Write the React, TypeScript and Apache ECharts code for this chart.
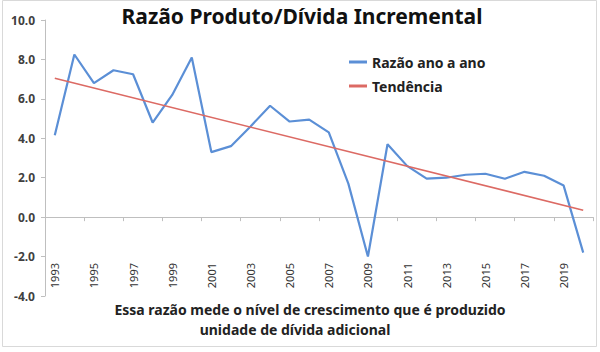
import React, { useEffect, useRef } from "react";
import * as echarts from "echarts";

const years = [
  "1993", "1994", "1995", "1996", "1997", "1998", "1999", "2000", "2001", "2002",
  "2003", "2004", "2005", "2006", "2007", "2008", "2009", "2010", "2011", "2012",
  "2013", "2014", "2015", "2016", "2017", "2018", "2019", "2020",
];
const ratio = [
  4.15, 8.25, 6.8, 7.45, 7.25, 4.8, 6.2, 8.1, 3.3, 3.6,
  4.6, 5.65, 4.85, 4.95, 4.3, 1.7, -2.0, 3.7, 2.6, 1.95,
  2.0, 2.15, 2.2, 1.95, 2.3, 2.1, 1.6, -1.8,
];
const trendEnds: [string, number][] = [
  ["1993", 7.05],
  ["2020", 0.35],
];
const titleText = "Razão Produto/Dívida Incremental";
const seriesNames = ["Razão ano a ano", "Tendência"];
const noteLines = [
  "Essa razão mede o nível de crescimento que é produzido",
  "unidade de dívida adicional",
];

export default function App() {
  const ref = useRef<HTMLDivElement>(null);
  useEffect(() => {
    if (!ref.current) return;
    const chart = echarts.init(ref.current, null, { renderer: "svg" });
    const font = "'Noto Sans', 'Open Sans', sans-serif";
    chart.setOption({
      animation: false,
      backgroundColor: "#ffffff",
      textStyle: { fontFamily: font },
      title: {
        text: titleText,
        left: 297,
        textAlign: "center",
        top: 0,
        textStyle: { fontSize: 21, fontWeight: "bold", color: "#111", fontFamily: font },
      },
      legend: {
        orient: "vertical",
        left: 344,
        top: 50,
        itemWidth: 18,
        itemHeight: 3,
        itemGap: 10,
        icon: "rect",
        textStyle: { fontSize: 14, fontWeight: "bold", color: "#222", fontFamily: font },
        data: seriesNames,
      },
      grid: { left: 45, right: 7, top: 20, bottom: 56 },
      xAxis: [
        {
          type: "category",
          data: years,
          boundaryGap: true,
          axisLine: { onZero: true, lineStyle: { color: "#bfbfbf", width: 1 } },
          axisTick: { show: true, interval: 1, length: 4, lineStyle: { color: "#bfbfbf" } },
          axisLabel: { show: false },
          splitLine: { show: false },
        },
        {
          type: "category",
          data: years,
          boundaryGap: true,
          position: "bottom",
          offset: -33,
          axisLine: { show: false },
          axisTick: { show: false },
          axisLabel: {
            show: true,
            interval: 1,
            rotate: 90,
            margin: 0,
            fontSize: 11,
            color: "#333",
            fontFamily: font,
          },
          splitLine: { show: false },
        },
      ],
      yAxis: {
        type: "value",
        min: -4,
        max: 10,
        interval: 2,
        axisLine: { show: true, lineStyle: { color: "#bfbfbf", width: 1 } },
        axisTick: { show: true, length: 4, lineStyle: { color: "#bfbfbf" } },
        axisLabel: {
          formatter: (v: number) => v.toFixed(1),
          fontSize: 12,
          fontWeight: "bold",
          color: "#404040",
          margin: 10,
          fontFamily: font,
        },
        splitLine: { show: false },
      },
      series: [
        {
          name: seriesNames[0],
          type: "line",
          data: ratio,
          showSymbol: false,
          symbol: "none",
          lineStyle: { color: "#5b8fd6", width: 2.2 },
          itemStyle: { color: "#5b8fd6" },
        },
        {
          name: seriesNames[1],
          type: "line",
          data: trendEnds,
          showSymbol: false,
          symbol: "none",
          lineStyle: { color: "#dc6a64", width: 1.6 },
          itemStyle: { color: "#dc6a64" },
        },
      ],
      graphic: [
        {
          type: "text",
          style: {
            text: noteLines[0],
            x: 310,
            y: 309,
            align: "center",
            verticalAlign: "middle",
            fontSize: 14,
            lineHeight: 16,
            fontWeight: "bold",
            fill: "#222",
            fontFamily: font,
          },
        },
        {
          type: "text",
          style: {
            text: noteLines[1],
            x: 295,
            y: 329,
            align: "center",
            verticalAlign: "middle",
            fontSize: 14,
            lineHeight: 16,
            fontWeight: "bold",
            fill: "#222",
            fontFamily: font,
          },
        },
        {
          type: "rect",
          shape: { x: 2.5, y: 0.5, width: 594, height: 346 },
          style: { fill: "none", stroke: "#d9d9d9", lineWidth: 1 },
          silent: true,
        },
      ],
    });
    return () => chart.dispose();
  }, []);
  return (
    <div
      ref={ref}
      style={{ position: "fixed", left: 0, top: 0, width: 600, height: 352 }}
    />
  );
}
